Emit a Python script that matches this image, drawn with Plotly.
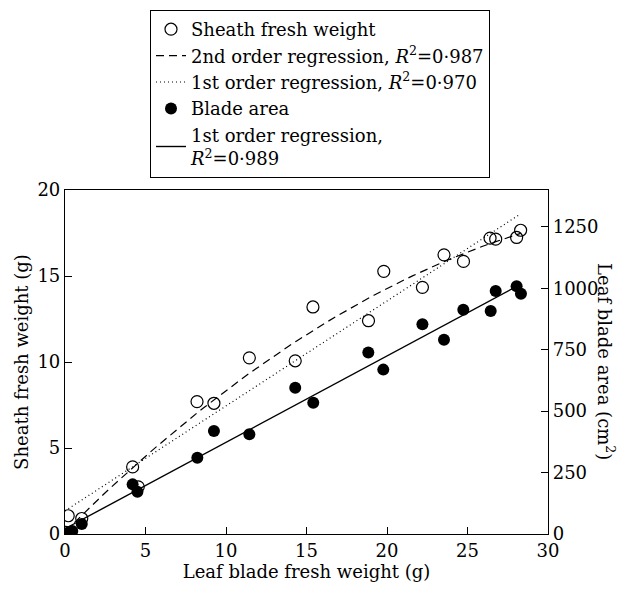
import numpy as np
import plotly.graph_objects as go

# Sheath fresh weight (g) vs leaf blade fresh weight (g)
sheath_x = [0.05, 0.2, 1.04, 4.2, 4.55, 8.2, 9.25, 11.45, 14.3, 15.4, 18.85, 19.8,
            22.2, 23.54, 24.75, 26.4, 26.75, 28.05, 28.3]
sheath_y = [0.1, 1.06, 0.9, 3.9, 2.74, 7.7, 7.6, 10.24, 10.07, 13.2, 12.4, 15.27,
            14.34, 16.23, 15.85, 17.2, 17.14, 17.24, 17.66]

# Leaf blade area (cm2) vs leaf blade fresh weight (g)
blade_x = [0.05, 0.2, 0.45, 1.04, 4.2, 4.5, 8.22, 9.25, 11.45, 14.3, 15.42, 18.84,
           19.77, 22.2, 23.54, 24.74, 26.44, 26.75, 28.05, 28.32]
blade_y = [0, 5, 12, 41, 202, 172, 310, 419, 406, 595, 534, 739,
           669, 854, 791, 913, 908, 989, 1008, 978]

x_ticks = [0, 5, 10, 15, 20, 25, 30]
y_ticks = [0, 5, 10, 15, 20]
y2_ticks = [0, 250, 500, 750, 1000, 1250]

FONT = "DejaVu Serif"
FS = 18

# regressions fitted on the data
sx = np.array(sheath_x); sy = np.array(sheath_y)
bx = np.array(blade_x); by = np.array(blade_y)
p2 = np.polyfit(sx, sy, 2)
p1 = np.polyfit(sx, sy, 1)
pb = np.polyfit(bx, by, 1)
xq = np.linspace(0, sx.max(), 60)
xl = np.array([0, sx.max()])
xb = np.array([0, 28.05])

fig = go.Figure()
fig.add_trace(go.Scatter(x=sheath_x, y=sheath_y, mode="markers", name="Sheath fresh weight",
                         marker=dict(symbol="circle-open", size=12, color="black", line=dict(width=1.2))))
fig.add_trace(go.Scatter(x=xq, y=np.polyval(p2, xq), mode="lines",
                         name="2nd order regression, <i>R</i><sup>2</sup>=0·987",
                         line=dict(color="black", width=1.2, dash="8px,5px")))
fig.add_trace(go.Scatter(x=xl, y=np.polyval(p1, xl), mode="lines",
                         name="1st order regression, <i>R</i><sup>2</sup>=0·970",
                         line=dict(color="black", width=1.2, dash="1px,3px")))
fig.add_trace(go.Scatter(x=blade_x, y=blade_y, mode="markers", name="Blade area", yaxis="y2",
                         marker=dict(symbol="circle", size=12, color="black")))
fig.add_trace(go.Scatter(x=xb, y=np.polyval(pb, xb), mode="lines", yaxis="y2",
                         name="1st order regression,<br><i>R</i><sup>2</sup>=0·989",
                         line=dict(color="black", width=1.4)))

axis_common = dict(showline=True, linecolor="black", linewidth=1.2, ticks="inside",
                   ticklen=7, tickcolor="black", tickwidth=1.2, showgrid=False, zeroline=False,
                   tickfont=dict(family=FONT, size=FS, color="black"))

fig.update_layout(
    width=627, height=595,
    margin=dict(l=65, r=79, t=189, b=61),
    paper_bgcolor="white", plot_bgcolor="white",
    font=dict(family=FONT, size=FS, color="black"),
    showlegend=True,
    legend=dict(x=(150 - 65) / 483, y=(189 - 10) / 345 + 1, xref="paper", yref="paper",
                xanchor="left", yanchor="top",
                bordercolor="black", borderwidth=1, bgcolor="white",
                font=dict(family=FONT, size=FS, color="black"),
                tracegroupgap=0, itemwidth=30),
    xaxis=dict(range=[0, 30], tickvals=x_ticks, mirror=True,
               title=dict(text="Leaf blade fresh weight (g)", font=dict(family=FONT, size=FS), standoff=2),
               **axis_common),
    yaxis=dict(range=[0, 20], tickvals=y_ticks,
               title=dict(text="Sheath fresh weight (g)", font=dict(family=FONT, size=FS), standoff=4),
               **axis_common),
    yaxis2=dict(range=[0, 1400], tickvals=y2_ticks, overlaying="y", side="right",
                **axis_common),
    annotations=[dict(text="Leaf blade area (cm<sup>2</sup>)", textangle=90, xref="paper", yref="paper",
                      x=1.12, y=0.5, xanchor="center", yanchor="middle", showarrow=False,
                      font=dict(family=FONT, size=FS, color="black"))],
)

fig.write_html("out.html")
